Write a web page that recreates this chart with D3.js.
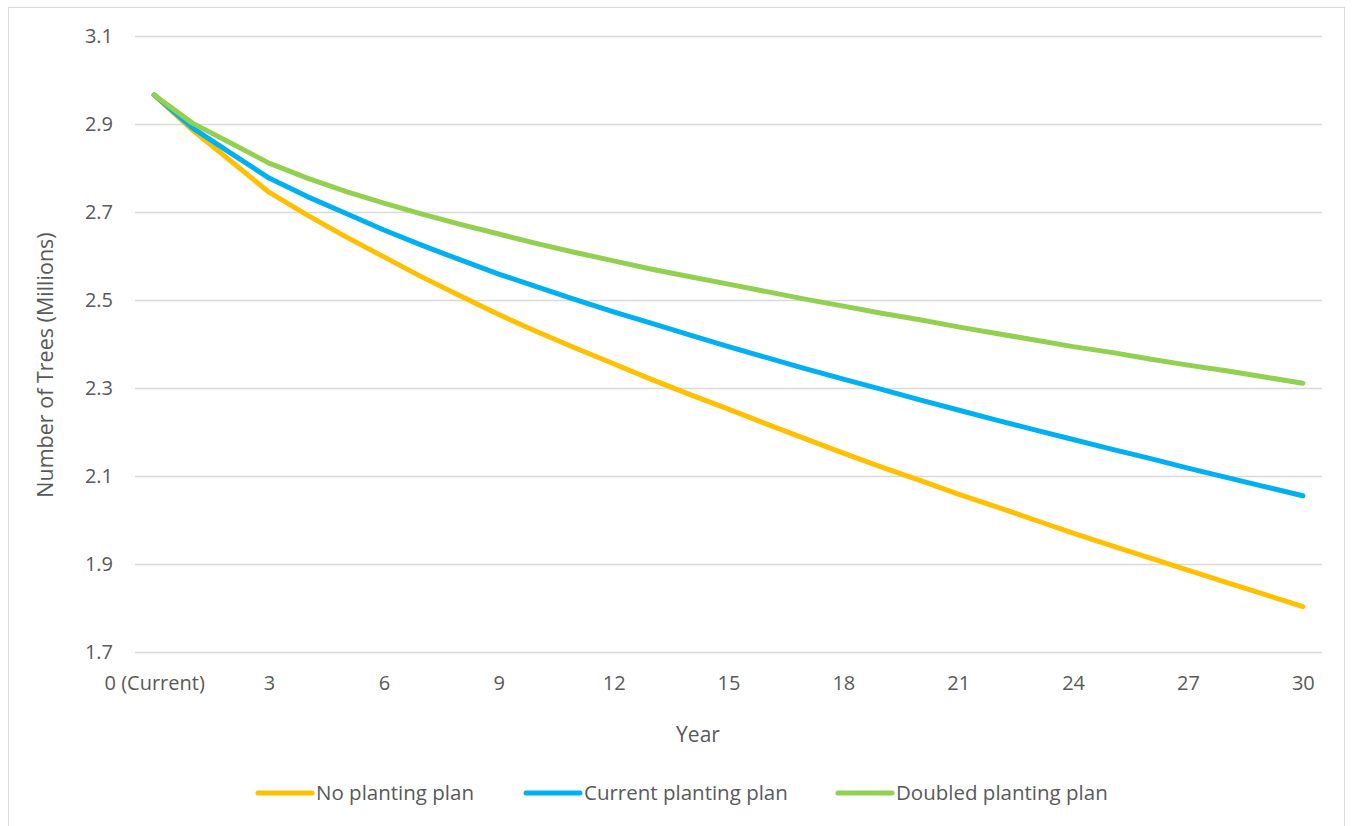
<!DOCTYPE html>
<html>
<head>
<meta charset="utf-8">
<script src="https://cdn.jsdelivr.net/npm/d3@7/dist/d3.min.js"></script>
<style>
  html, body { margin: 0; padding: 0; background: #ffffff; }
  svg { display: block; font-family: "Open Sans", Lato, sans-serif; }
</style>
</head>
<body>
<svg id="chart" width="1353" height="826"></svg>
<script>
// Years from now (one category per year)
const years = d3.range(0, 31);

// Projected number of trees (millions) for each planting scenario
const noPlanting = [
  2.966, 2.886, 2.816, 2.745, 2.693, 2.644, 2.598, 2.552, 2.509, 2.467,
  2.428, 2.391, 2.355, 2.319, 2.285, 2.252, 2.218, 2.185, 2.152, 2.120,
  2.090, 2.059, 2.030, 2.000, 1.970, 1.942, 1.914, 1.886, 1.858, 1.831,
  1.803
];
const currentPlanting = [
  2.966, 2.891, 2.834, 2.777, 2.735, 2.697, 2.659, 2.624, 2.591, 2.559,
  2.530, 2.501, 2.473, 2.447, 2.420, 2.394, 2.369, 2.344, 2.320, 2.297,
  2.273, 2.250, 2.227, 2.205, 2.183, 2.161, 2.140, 2.118, 2.097, 2.076,
  2.055
];
const doubledPlanting = [
  2.966, 2.902, 2.857, 2.811, 2.777, 2.747, 2.720, 2.695, 2.672, 2.650,
  2.628, 2.608, 2.589, 2.570, 2.553, 2.536, 2.519, 2.502, 2.486, 2.470,
  2.455, 2.439, 2.424, 2.409, 2.394, 2.381, 2.366, 2.352, 2.339, 2.325,
  2.311
];

const seriesNames = ["No planting plan", "Current planting plan", "Doubled planting plan"];
const seriesColors = ["#FFC000", "#00B0F0", "#92D050"];
const seriesValues = [noPlanting, currentPlanting, doubledPlanting];

// Axis ticks
const yTicks = [1.7, 1.9, 2.1, 2.3, 2.5, 2.7, 2.9, 3.1];
const xTickYears = [0, 3, 6, 9, 12, 15, 18, 21, 24, 27, 30];
const xTickLabels = ["0 (Current)", "3", "6", "9", "12", "15", "18", "21", "24", "27", "30"];

const svg = d3.select("#chart");
const textColor = "#595959";

// Outer chart frame
svg.append("rect")
  .attr("x", 8.5).attr("y", 7.5)
  .attr("width", 1336).attr("height", 830)
  .attr("fill", "#ffffff")
  .attr("stroke", "#d9d9d9")
  .attr("stroke-width", 1);

const plot = { left: 135, right: 1322, top: 36, bottom: 652 };

// Category axis: each year occupies one slot, points sit in the slot centre
const x = d3.scaleLinear()
  .domain([-0.5, years.length - 0.5])
  .range([plot.left, plot.right]);

const y = d3.scaleLinear()
  .domain([1.7, 3.1])
  .range([plot.bottom, plot.top]);

// Horizontal gridlines
svg.append("g")
  .selectAll("line")
  .data(yTicks)
  .join("line")
  .attr("x1", plot.left).attr("x2", plot.right)
  .attr("y1", d => Math.round(y(d)) + 0.5)
  .attr("y2", d => Math.round(y(d)) + 0.5)
  .attr("stroke", "#d9d9d9")
  .attr("stroke-width", 1.5);

// Y axis labels
const yAxis = d3.axisLeft(y)
  .tickValues(yTicks)
  .tickFormat(d3.format(".1f"))
  .tickSize(0)
  .tickPadding(0);
const yAxisG = svg.append("g")
  .attr("transform", `translate(${plot.left - 22},0)`)
  .call(yAxis);
yAxisG.select(".domain").remove();
yAxisG.selectAll("text")
  .attr("fill", textColor)
  .style("font-size", "20px")
  .style("font-family", "'Open Sans', sans-serif");

// X axis labels
const xAxis = d3.axisBottom(x)
  .tickValues(xTickYears)
  .tickFormat((d, i) => xTickLabels[i])
  .tickSize(0)
  .tickPadding(0);
const xAxisG = svg.append("g")
  .attr("transform", `translate(0,${plot.bottom + 24})`)
  .call(xAxis);
xAxisG.select(".domain").remove();
xAxisG.selectAll("text")
  .attr("fill", textColor)
  .style("font-size", "20px")
  .style("font-family", "'Open Sans', sans-serif");

// Axis titles
svg.append("text")
  .attr("x", 698)
  .attr("y", 742)
  .attr("text-anchor", "middle")
  .attr("fill", textColor)
  .style("font-size", "21px")
  .text("Year");

svg.append("text")
  .attr("transform", "translate(53,365) rotate(-90)")
  .attr("text-anchor", "middle")
  .attr("fill", textColor)
  .style("font-size", "21.5px")
  .text("Number of Trees (Millions)");

// Series lines
const line = d3.line()
  .x((d, i) => x(years[i]))
  .y(d => y(d));

svg.append("g")
  .selectAll("path")
  .data(seriesValues)
  .join("path")
  .attr("d", line)
  .attr("fill", "none")
  .attr("stroke", (d, i) => seriesColors[i])
  .attr("stroke-width", 5)
  .attr("stroke-linecap", "round")
  .attr("stroke-linejoin", "round");

// Legend
const legendItems = [
  { x: 258, name: seriesNames[0], color: seriesColors[0] },
  { x: 526, name: seriesNames[1], color: seriesColors[1] },
  { x: 838, name: seriesNames[2], color: seriesColors[2] }
];
const legend = svg.append("g").attr("transform", "translate(0,793)");
const item = legend.selectAll("g")
  .data(legendItems)
  .join("g")
  .attr("transform", d => `translate(${d.x},0)`);
item.append("line")
  .attr("x1", 0).attr("x2", 54)
  .attr("y1", 0).attr("y2", 0)
  .attr("stroke", d => d.color)
  .attr("stroke-width", 5)
  .attr("stroke-linecap", "round");
item.append("text")
  .attr("x", 58)
  .attr("y", 0)
  .attr("dy", "0.35em")
  .attr("fill", textColor)
  .style("font-size", "20.5px")
  .text(d => d.name);
</script>
</body>
</html>
